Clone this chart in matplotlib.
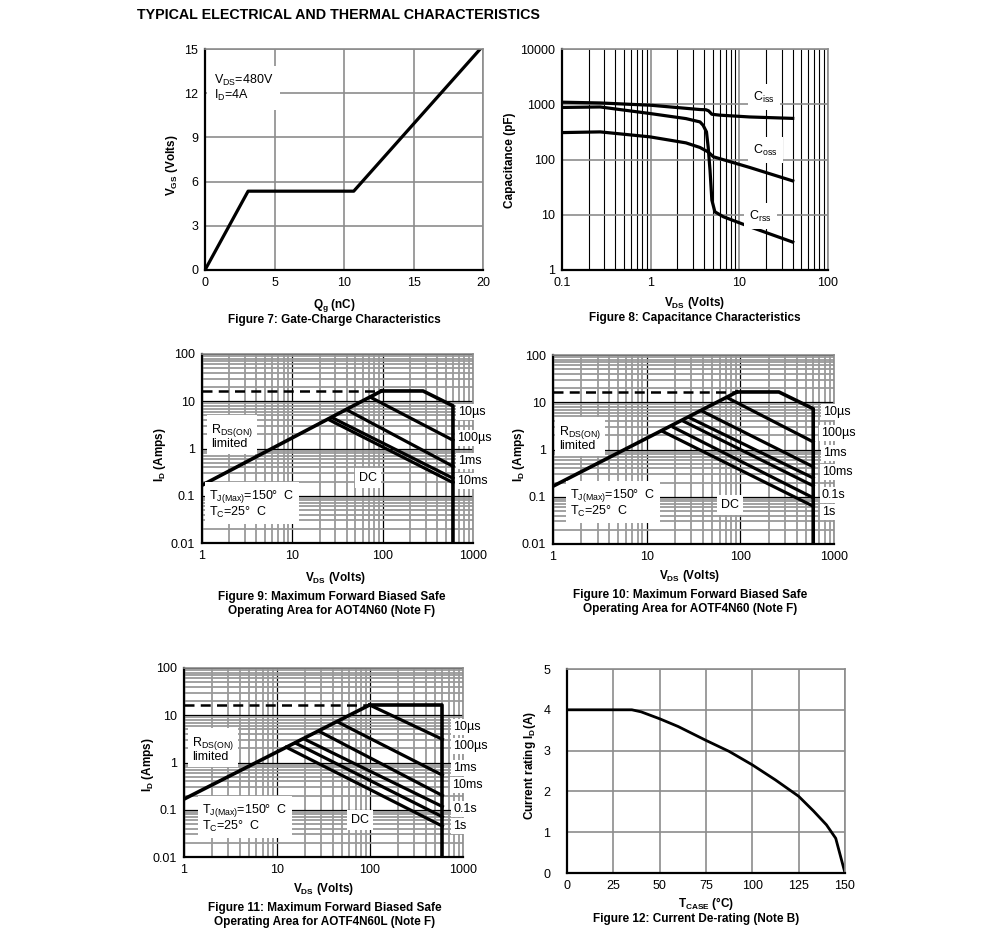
import matplotlib
matplotlib.use('Agg')
import matplotlib.pyplot as plt
from matplotlib.ticker import FixedLocator, NullFormatter

plt.rcParams['font.family'] = ['Liberation Sans', 'DejaVu Sans']
plt.rcParams['mathtext.fontset'] = 'custom'
plt.rcParams['mathtext.rm'] = 'Liberation Sans'
plt.rcParams['mathtext.it'] = 'Liberation Sans:italic'
plt.rcParams['mathtext.bf'] = 'Liberation Sans:bold'
plt.rcParams['font.size'] = 9

# ---- data ----
# Figure 7: gate charge
qg = [0, 3.1, 10.7, 19.8]
vgs = [0, 5.35, 5.35, 15]

# Figure 8: capacitance vs VDS
ciss_v = [0.1, 0.27, 1, 3.6, 4.2, 4.5, 4.9, 6, 13, 40]
ciss_c = [1090, 1055, 960, 802, 795, 760, 659, 635, 589, 555]
crss_v = [0.1, 0.27, 0.98, 2.5, 3.6, 3.9, 4.26, 4.45, 4.67, 4.9, 5.3, 6.6, 13, 40]
crss_c = [875, 893, 680, 550, 479, 417, 316, 169, 64, 18.4, 11.3, 9.2, 6.1, 3.2]
coss_v = [0.1, 0.27, 0.98, 2.5, 3.6, 4.45, 5.1, 8.5, 13, 40]
coss_c = [307, 316, 257, 200, 165, 137, 112, 88, 72, 41]

# Figures 9-11: safe operating area (start VDS, start ID, end VDS, end ID)
soa9_rds = ([1, 97], [0.167, 16.5])
soa9_top = ([97, 280, 600, 600], [16.5, 16.5, 8.0, 0.01])
soa9_lines = [(73, 12.2, 600, 1.5), (40, 6.6, 600, 0.42),
              (27.5, 4.5, 600, 0.235), (25.2, 4.1, 600, 0.19)]

soa10_rds = ([1, 92], [0.167, 16.5])
soa10_top = ([92, 258, 600, 600], [16.5, 16.5, 7.3, 0.01])
soa10_lines = [(73, 12.4, 600, 1.45), (39, 6.5, 600, 0.43), (28.7, 4.7, 600, 0.25),
               (24.5, 4.0, 600, 0.17), (19.3, 2.95, 600, 0.095), (14.9, 2.4, 600, 0.063)]

soa11_rds = ([1, 99], [0.168, 16.5])
soa11_top = ([99, 600, 600], [16.5, 16.5, 0.01])
soa11_lines = [(99, 16.5, 600, 3.1), (45, 7.2, 600, 0.54), (28.8, 4.5, 600, 0.20),
               (19.9, 3.1, 600, 0.117), (15.9, 2.56, 600, 0.071), (12.6, 2.1, 600, 0.045)]
pulse_limit = 16.5

# Figure 12: current de-rating
tcase = [0, 35, 40, 50, 60, 75, 87.5, 100, 112.5, 125, 133, 140, 145, 150]
irating = [4.0, 4.0, 3.95, 3.78, 3.59, 3.25, 2.98, 2.65, 2.28, 1.88, 1.52, 1.18, 0.85, 0.0]

W, H = 991, 944
fig = plt.figure(figsize=(W / 100, H / 100), dpi=100)
GRAY = '#8c8c8c'
BOX = dict(facecolor='white', edgecolor='none', pad=1.5)
LBL = 8.5  # bold axis labels and captions


def add_ax(l, t, r, b):
    return fig.add_axes([l / W, 1 - b / H, (r - l) / W, (b - t) / H])


def ptext(x, y, s, **kw):
    kw.setdefault('va', 'center')
    return fig.text(x / W, 1 - y / H, s, **kw)


def frame(ax):
    for s in ['left', 'bottom']:
        ax.spines[s].set_color('black')
        ax.spines[s].set_linewidth(1.6)
    for s in ['top', 'right']:
        ax.spines[s].set_color(GRAY)
        ax.spines[s].set_linewidth(1.2)
    ax.tick_params(which='both', length=0, pad=5, labelsize=9)
    ax.set_axisbelow(True)


ptext(137, 15, 'TYPICAL ELECTRICAL AND THERMAL CHARACTERISTICS',
      fontsize=10.3, fontweight='bold', ha='left')

# ---------------- Figure 7 ----------------
ax7 = add_ax(205, 49, 483, 270)
ax7.plot(qg, vgs, color='black', lw=2.3)
ax7.set_xlim(0, 20)
ax7.set_ylim(0, 15)
ax7.set_xticks([0, 5, 10, 15, 20])
ax7.set_yticks([0, 3, 6, 9, 12, 15])
ax7.grid(color=GRAY, lw=1.2)
frame(ax7)
ptext(214, 88, '$\\mathregular{V_{DS}}$=480V\n$\\mathregular{I_D}$=4A', ha='left',
      linespacing=1.0, bbox=dict(facecolor='white', edgecolor='none', pad=5))
ptext(334, 305, r'$\mathbf{Q_g}$ (nC)', fontweight='bold', fontsize=LBL, ha='center')
ptext(334, 320, 'Figure 7: Gate-Charge Characteristics', fontweight='bold', fontsize=LBL, ha='center')
ptext(172, 165, r'$\mathbf{V_{GS}}$ (Volts)', fontweight='bold', fontsize=LBL, ha='center', rotation=90)

# ---------------- Figure 8 ----------------
ax8 = add_ax(562, 49, 828, 270)
ax8.set_xscale('log')
ax8.set_yscale('log')
ax8.plot(ciss_v, ciss_c, color='black', lw=2.3)
ax8.plot(crss_v, crss_c, color='black', lw=2.3)
ax8.plot(coss_v, coss_c, color='black', lw=2.3)
ax8.set_xlim(0.1, 100)
ax8.set_ylim(1, 10000)
ax8.xaxis.set_major_locator(FixedLocator([0.1, 1, 10, 100]))
ax8.set_xticklabels(['0.1', '1', '10', '100'])
ax8.yaxis.set_major_locator(FixedLocator([1, 10, 100, 1000, 10000]))
ax8.set_yticklabels(['1', '10', '100', '1000', '10000'])
ax8.xaxis.set_minor_locator(FixedLocator([m * d for d in [0.1, 1, 10] for m in range(2, 10)]))
ax8.xaxis.set_minor_formatter(NullFormatter())
ax8.yaxis.set_minor_locator(FixedLocator([]))
ax8.grid(which='major', color=GRAY, lw=1.2)
ax8.grid(which='minor', axis='x', color='black', lw=0.8)
frame(ax8)
ptext(753, 97, r'$\mathregular{C_{iss}}$', ha='left', bbox=dict(facecolor='white', edgecolor='none', pad=4))
ptext(753, 150, r'$\mathregular{C_{oss}}$', ha='left', bbox=dict(facecolor='white', edgecolor='none', pad=4))
ptext(749, 216, r'$\mathregular{C_{rss}}$', ha='left', bbox=dict(facecolor='white', edgecolor='none', pad=4))
ptext(695, 303, r'$\mathbf{V_{DS}}$ (Volts)', fontweight='bold', fontsize=LBL, ha='center')
ptext(695, 318, 'Figure 8: Capacitance Characteristics', fontweight='bold', fontsize=LBL, ha='center')
ptext(510, 160, 'Capacitance (pF)', fontweight='bold', fontsize=LBL, ha='center', rotation=90)


# ---------------- SOA figures ----------------
def soa(ax, rds, top, lines):
    ax.set_xscale('log')
    ax.set_yscale('log')
    ax.set_xlim(1, 1000)
    ax.set_ylim(0.01, 100)
    ax.plot([rds[0][0], top[0][0]], [pulse_limit, pulse_limit], color='black', lw=1.8,
            ls=(0, (4, 2.5)))
    ax.plot(rds[0], rds[1], color='black', lw=2.6)
    ax.plot(top[0], top[1], color='black', lw=2.6)
    for v0, i0, v1, i1 in lines:
        ax.plot([v0, v1], [i0, i1], color='black', lw=2.3)
    ax.xaxis.set_major_locator(FixedLocator([1, 10, 100, 1000]))
    ax.set_xticklabels(['1', '10', '100', '1000'])
    ax.yaxis.set_major_locator(FixedLocator([0.01, 0.1, 1, 10, 100]))
    ax.set_yticklabels(['0.01', '0.1', '1', '10', '100'])
    ax.xaxis.set_minor_locator(FixedLocator([m * d for d in [1, 10, 100] for m in range(2, 10)]))
    ax.yaxis.set_minor_locator(FixedLocator([m * d for d in [0.01, 0.1, 1, 10] for m in range(2, 10)]))
    ax.xaxis.set_minor_formatter(NullFormatter())
    ax.yaxis.set_minor_formatter(NullFormatter())
    ax.grid(which='minor', color='#9a9a9a', lw=1.3)
    ax.grid(which='major', color='black', lw=0.9)
    frame(ax)


CAP = dict(fontweight='bold', fontsize=LBL, ha='center', linespacing=1.15)

ax9 = add_ax(202, 354, 473, 543)
soa(ax9, soa9_rds, soa9_top, soa9_lines)
for x, y, s in [(458, 412, '10µs'), (457, 438, '100µs'), (458, 461, '1ms'), (457, 481, '10ms')]:
    ptext(x, y, s, ha='left', bbox=BOX)
ptext(368, 478, 'DC', ha='center', bbox=dict(facecolor='white', edgecolor='none', pad=3))
ptext(211, 436, '$\\mathregular{R_{DS(ON)}}$\nlimited', ha='left', linespacing=0.95,
      bbox=dict(facecolor='white', edgecolor='none', pad=3))
ptext(209, 504, '$\\mathregular{T_{J(Max)}}$=150°  C\n$\\mathregular{T_C}$=25°  C', ha='left',
      linespacing=1.0, bbox=dict(facecolor='white', edgecolor='none', pad=3))
ptext(336, 578, r'$\mathbf{V_{DS}}$ (Volts)', fontweight='bold', fontsize=LBL, ha='center')
ptext(332, 604, 'Figure 9: Maximum Forward Biased Safe\nOperating Area for AOT4N60 (Note F)', **CAP)
ptext(160, 455, r'$\mathbf{I_D}$ (Amps)', fontweight='bold', fontsize=LBL, ha='center', rotation=90)

ax10 = add_ax(553, 355, 834, 544)
soa(ax10, soa10_rds, soa10_top, soa10_lines)
for x, y, s in [(823, 412, '10µs'), (821, 433, '100µs'), (823, 453, '1ms'),
                (822, 472, '10ms'), (822, 495, '0.1s'), (822, 512, '1s')]:
    ptext(x, y, s, ha='left', bbox=BOX)
ptext(730, 505, 'DC', ha='center', bbox=dict(facecolor='white', edgecolor='none', pad=3))
ptext(559, 438, '$\\mathregular{R_{DS(ON)}}$\nlimited', ha='left', linespacing=0.95,
      bbox=dict(facecolor='white', edgecolor='none', pad=3))
ptext(570, 503, '$\\mathregular{T_{J(Max)}}$=150°  C\n$\\mathregular{T_C}$=25°  C', ha='left',
      linespacing=1.0, bbox=dict(facecolor='white', edgecolor='none', pad=3))
ptext(690, 576, r'$\mathbf{V_{DS}}$ (Volts)', fontweight='bold', fontsize=LBL, ha='center')
ptext(690, 602, 'Figure 10: Maximum Forward Biased Safe\nOperating Area for AOTF4N60 (Note F)', **CAP)
ptext(519, 455, r'$\mathbf{I_D}$ (Amps)', fontweight='bold', fontsize=LBL, ha='center', rotation=90)

ax11 = add_ax(184, 668, 463, 857)
soa(ax11, soa11_rds, soa11_top, soa11_lines)
for x, y, s in [(453, 727, '10µs'), (453, 746, '100µs'), (453, 768, '1ms'),
                (452, 785, '10ms'), (453, 809, '0.1s'), (453, 826, '1s')]:
    ptext(x, y, s, ha='left', bbox=BOX)
ptext(360, 820, 'DC', ha='center', bbox=dict(facecolor='white', edgecolor='none', pad=3))
ptext(192, 749, '$\\mathregular{R_{DS(ON)}}$\nlimited', ha='left', linespacing=0.95,
      bbox=dict(facecolor='white', edgecolor='none', pad=3))
ptext(202, 818, '$\\mathregular{T_{J(Max)}}$=150°  C\n$\\mathregular{T_C}$=25°  C', ha='left',
      linespacing=1.0, bbox=dict(facecolor='white', edgecolor='none', pad=3))
ptext(324, 889, r'$\mathbf{V_{DS}}$ (Volts)', fontweight='bold', fontsize=LBL, ha='center')
ptext(325, 915, 'Figure 11: Maximum Forward Biased Safe\nOperating Area for AOTF4N60L (Note F)', **CAP)
ptext(148, 765, r'$\mathbf{I_D}$ (Amps)', fontweight='bold', fontsize=LBL, ha='center', rotation=90)

# ---------------- Figure 12 ----------------
ax12 = add_ax(567, 669, 845, 873)
ax12.plot(tcase, irating, color='black', lw=2.0)
ax12.set_xlim(0, 150)
ax12.set_ylim(0, 5)
ax12.set_xticks([0, 25, 50, 75, 100, 125, 150])
ax12.set_yticks([0, 1, 2, 3, 4, 5])
ax12.grid(color=GRAY, lw=1.2)
frame(ax12)
ax12.tick_params(axis='y', pad=12)
ptext(706, 904, r'$\mathbf{T_{CASE}}$ (°C)', fontweight='bold', fontsize=LBL, ha='center')
ptext(696, 919, 'Figure 12: Current De-rating (Note B)', fontweight='bold', fontsize=LBL, ha='center')
ptext(530, 765, r'Current rating $\mathbf{I_D}$(A)', fontweight='bold', fontsize=LBL, ha='center', rotation=90)

fig.savefig('out.png', dpi=100)
